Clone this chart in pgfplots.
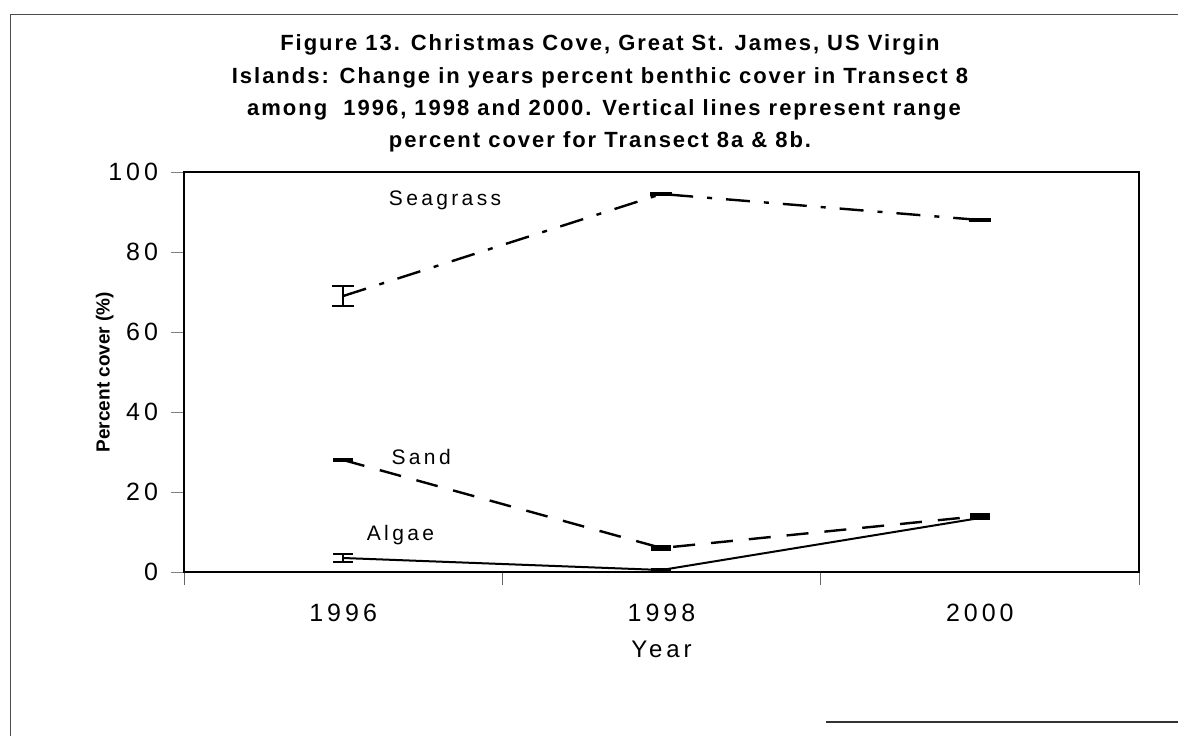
\documentclass[border=0pt]{standalone}
\usepackage{fontspec}
\setmainfont{Liberation Sans}
\newfontfamily\lsf{Liberation Sans}[LetterSpace=16]
\newfontfamily\lst{Liberation Sans}[LetterSpace=9]
\usepackage{pgfplots}
\pgfplotsset{compat=1.18}
\begin{document}
\begin{tikzpicture}
\useasboundingbox (0,0) rectangle (589pt,368pt);
\draw[line width=0.5pt,black!70] (5pt,361pt) -- (589pt,361pt);
\draw[line width=0.5pt,black!70] (5pt,361pt) -- (5pt,0pt);
\draw[line width=0.7pt,black!80] (413pt,7pt) -- (589pt,7pt);
\begin{scope}[every node/.style={font=\lst\bfseries\fontsize{11}{13}\selectfont}]
\node at (305pt,345.5pt) {Figure 13. Christmas Cove, Great St. James, US Virgin};
\node at (300pt,329pt) {Islands: Change in years percent benthic cover in Transect 8};
\node at (302pt,313pt) {among\ \ 1996, 1998 and 2000. Vertical lines represent range};
\node at (300pt,297pt) {percent cover for Transect 8a \& 8b.};
\end{scope}
\begin{axis}[
  at={(92pt,82pt)}, anchor=south west,
  scale only axis, width=477.5pt, height=200pt,
  xmin=1995, xmax=2001, ymin=0, ymax=100,
  ytick={0,20,40,60,80,100},
  xtick={1995,1997,1999,2001}, xticklabels={},
  extra x ticks={1996,1998,2000},
  extra x tick labels={1996,1998,2000},
  extra x tick style={tick style={draw=none}},
  tick pos=left, tick align=outside,
  major tick length=6.5pt,
  xtick style={line width=0.3pt, black!60},
  ytick style={line width=0.5pt},
  axis line style={line width=1.4pt},
  tick label style={font=\lsf\fontsize{12.5}{14}\selectfont},
  xticklabel style={yshift=-6pt},
  yticklabel style={xshift=-3pt},
  /pgf/number format/assume math mode=true,
  ylabel={Percent cover (\%)},
  ylabel style={font=\bfseries\fontsize{9.5}{11}\selectfont,
    at={(axis description cs:-0.083,0.5)}, anchor=center},
  xlabel={Year},
  xlabel style={font=\lsf\fontsize{12}{14}\selectfont, yshift=4pt},
  clip=false,
]
% Seagrass (dash-dot)
\addplot[black, line width=1.2pt, dash pattern=on 12pt off 7pt on 2.5pt off 7pt,
  error bars/.cd, y dir=both, y explicit,
  error bar style={solid, line width=1.2pt},
  error mark options={solid, rotate=90, mark size=5.5pt, line width=1.2pt}]
coordinates {
  (1996,69) +- (0,2.5)
  (1998,94.5) +- (0,0.3)
  (2000,88) +- (0,0.3)
};
% Sand (dashed)
\addplot[black, line width=1.2pt, dash pattern=on 11pt off 8pt,
  error bars/.cd, y dir=both, y explicit,
  error bar style={solid, line width=1.2pt},
  error mark options={solid, rotate=90, mark size=5pt, line width=1.2pt}]
coordinates {
  (1996,28) +- (0,0.3)
  (1998,6) +- (0,0.4)
  (2000,14) +- (0,0.4)
};
% Algae (solid)
\addplot[black, line width=1pt,
  error bars/.cd, y dir=both, y explicit,
  error bar style={solid, line width=1.2pt},
  error mark options={solid, rotate=90, mark size=5pt, line width=1.2pt}]
coordinates {
  (1996,3.5) +- (0,1)
  (1998,0.5) +- (0,0.2)
  (2000,13.5) +- (0,0.3)
};
\node[font=\lsf\fontsize{10.5}{12}\selectfont] at (axis cs:1996.64,93) {Seagrass};
\node[font=\lsf\fontsize{10.5}{12}\selectfont] at (axis cs:1996.49,28.8) {Sand};
\node[font=\lsf\fontsize{10.5}{12}\selectfont] at (axis cs:1996.36,9.3) {Algae};
\end{axis}
\end{tikzpicture}
\end{document}
